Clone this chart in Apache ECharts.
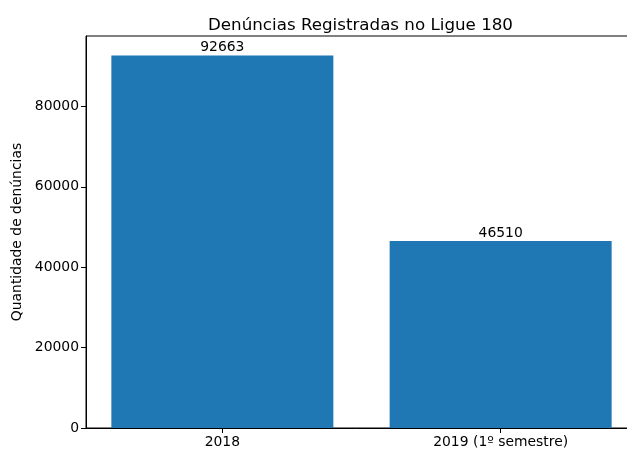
<!DOCTYPE html>
<html><head><meta charset="utf-8">
<script src="https://cdn.jsdelivr.net/npm/echarts@6/dist/echarts.min.js"></script>
<style>html,body{margin:0;padding:0;background:#fff}#c{width:627px;height:450px}</style>
</head><body><div id="c"></div>
<script>
const categories = ['2018', '2019 (1º semestre)'];
const values = [92663, 46510];
const yTicks = [0, 20000, 40000, 60000, 80000];
const xTicks = [0, 1];

const font = 'DejaVu Sans';
const chart = echarts.init(document.getElementById('c'), null, {renderer: 'canvas'});
chart.setOption({
  animation: false,
  backgroundColor: '#fff',
  title: {
    text: 'Denúncias Registradas no Ligue 180',
    left: 208, top: 17, padding: 0,
    textStyle: {fontFamily: font, fontSize: 16.7, fontWeight: 'normal', color: '#000'}
  },
  grid: {left: 86, width: 551, top: 36, height: 392, outerBoundsMode: 'none', containLabel: false, show: true, borderColor: '#000', borderWidth: 1, backgroundColor: 'transparent'},
  xAxis: {
    type: 'value', min: -0.49, max: 1.49,
    axisLine: {onZero: false, lineStyle: {color: '#000', width: 1}},
    axisTick: {show: true, length: 5, lineStyle: {color: '#000'}, customValues: xTicks},
    axisLabel: {fontFamily: font, fontSize: 13.9, color: '#000', margin: 7, customValues: xTicks, formatter: v => categories[Math.round(v)]},
    splitLine: {show: false}
  },
  yAxis: {
    type: 'value', min: 0, max: 97500, interval: 20000,
    name: 'Quantidade de denúncias', nameLocation: 'middle', nameRotate: 90, nameGap: 60,
    nameTextStyle: {fontFamily: font, fontSize: 13.9, color: '#000'},
    axisLine: {show: true, onZero: false, lineStyle: {color: '#000', width: 1}},
    axisTick: {show: true, length: 5, lineStyle: {color: '#000'}, customValues: yTicks},
    axisLabel: {fontFamily: font, fontSize: 13.9, color: '#000', margin: 7, customValues: yTicks, formatter: v => String(v)},
    splitLine: {show: false}
  },
  series: [{
    type: 'bar', data: values.map((v, i) => [i, v]), barWidth: 222,
    itemStyle: {color: '#1f77b4'},
    label: {show: true, position: 'top', distance: 1, fontFamily: font, fontSize: 13.9, color: '#000', formatter: p => String(p.value[1])}
  }]
});
</script></body></html>
